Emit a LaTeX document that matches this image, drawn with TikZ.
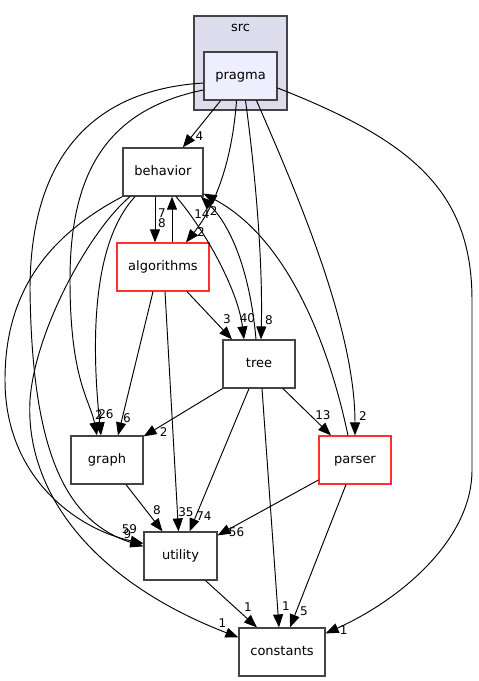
\documentclass[tikz,border=0pt]{standalone}
\usepackage{fontspec}
\setmainfont{DejaVu Sans}
\usetikzlibrary{arrows.meta}
\definecolor{boxgray}{HTML}{444444}
\definecolor{truncred}{HTML}{FF3030}
\definecolor{clusterfill}{HTML}{DDDDEE}
\definecolor{pragmafill}{HTML}{EEEEFF}

\begin{document}
\begin{tikzpicture}[x=1pt,y=-1pt,
  box/.style={draw=boxgray,line width=1.2pt,fill=white,inner sep=0pt,
    minimum width=72pt,minimum height=48pt,text height=9.5pt,text depth=2.5pt,
    font=\fontsize{13}{15}\selectfont},
  trunc/.style={box,draw=truncred},
  dep/.style={-{Triangle[length=13pt,width=10pt]},line width=0.95pt},
  lbl/.style={font=\fontsize{12}{14}\selectfont,inner sep=0pt}]

  \useasboundingbox (0,0) rectangle (479,681);

  \draw[boxgray,line width=1.2pt,fill=clusterfill] (194,16) rectangle (287,110);
  \node[font=\fontsize{13}{15}\selectfont,text height=9.5pt,text depth=2.5pt] (srctitle) at (240.5,28) {src};

  \node[box,fill=pragmafill,minimum width=73pt] (pragma) at (240.5,76) {pragma};
  \node[box,minimum width=80pt] (behavior) at (163,172) {behavior};
  \node[trunc,minimum width=92pt] (algorithms) at (163,267) {algorithms};
  \node[box] (tree) at (259,364) {tree};
  \node[box] (graph) at (107,460) {graph};
  \node[trunc] (parser) at (355,460) {parser};
  \node[box,minimum width=73pt] (utility) at (180.5,556) {utility};
  \node[box,minimum width=86pt] (constants) at (282,652) {constants};

  % from pragma
  \draw[dep] (pragma) -- (behavior) node[lbl,at end,shift={(16.6,-11)}] {4};
  \draw[dep] ([xshift=-4pt]pragma.south) .. controls (233,150) and (220,200) .. ([xshift=23pt]algorithms.north)
    node[lbl,at end,shift={(15,-10.5)}] {2};
  \draw[dep] ([xshift=5pt]pragma.south) .. controls (255,170) and (263,260) .. ([xshift=2pt]tree.north)
    node[lbl,at end,shift={(8,-19)}] {8};
  \draw[dep] ([xshift=16pt]pragma.south) .. controls (300,200) and (355,330) .. (parser.north)
    node[lbl,at end,shift={(8,-19)}] {2};
  \draw[dep] ([yshift=-14pt]pragma.west) .. controls (105,110) and (70,175) .. (70,280)
    .. controls (70,380) and (90,400) .. ([xshift=-10pt]graph.north)
    node[lbl,at end,shift={(2,-20)}] {2};
  \draw[dep] ([yshift=-7pt]pragma.west) .. controls (90,90) and (30,160) .. (30,290)
    .. controls (32,440) and (60,520) .. ([yshift=-15pt]utility.north west)
    node[lbl,at end,shift={(-16,-12)}] {9};
  \draw[dep] ([yshift=-12pt]pragma.east) .. controls (410,140) and (472,190) .. (472,300) -- (472,470)
    .. controls (472,540) and (400,600) .. ([yshift=-6pt]constants.north east)
    node[lbl,at end,shift={(18,-3)}] {1};

  % from behavior
  \draw[dep] ([xshift=-8pt]behavior.south) -- ([xshift=-8pt]algorithms.north)
    node[lbl,at end,shift={(7,-19.5)}] {8};
  \draw[dep] ([xshift=13pt]behavior.south) .. controls (205,230) and (238,290) .. ([xshift=-15pt]tree.north)
    node[lbl,at end,shift={(3.5,-21.5)}] {40};
  \draw[dep] ([xshift=-28pt]behavior.south) .. controls (95,240) and (90,330) .. ([xshift=-6pt]graph.north)
    node[lbl,at end,shift={(5,-21)}] {26};
  \draw[dep] (behavior.south west) .. controls (40,240) and (5,300) .. (5,380)
    .. controls (5,480) and (80,530) .. ([yshift=-12pt]utility.north west)
    node[lbl,at end,shift={(-14,-14)}] {59};
  \draw[dep] ([xshift=-33pt]behavior.south) .. controls (90,230) and (35,330) .. (30,400)
    .. controls (25,490) and (90,580) .. ([yshift=-10pt]constants.north west)
    node[lbl,at end,shift={(-16,-14)}] {1};

  % from algorithms
  \draw[dep] ([xshift=9pt]algorithms.north) -- ([xshift=9pt]behavior.south)
    node[lbl,at end,shift={(-10,17)}] {7};
  \draw[dep] ([xshift=24pt]algorithms.south) -- ([xshift=-27pt]tree.north)
    node[lbl,at end,shift={(-5,-20.5)}] {3};
  \draw[dep] ([xshift=-10pt]algorithms.south) -- ([xshift=11pt]graph.north)
    node[lbl,at end,shift={(9,-17)}] {6};
  \draw[dep] ([xshift=2pt]algorithms.south) -- ([xshift=-2pt]utility.north)
    node[lbl,at end,shift={(7.5,-19)}] {35};

  % from tree
  \draw[dep] ([xshift=-3pt]tree.north) .. controls (250,270) and (230,225) .. ([xshift=38pt]behavior.south)
    node[lbl,at end,shift={(1,18)}] {14};
  \draw[dep] (tree.south west) -- ([yshift=-1pt]graph.north east)
    node[lbl,at end,shift={(20,-4)}] {2};
  \draw[dep] ([xshift=24pt]tree.south) -- ([xshift=-24pt]parser.north)
    node[lbl,at end,shift={(-8,-20)}] {13};
  \draw[dep] ([xshift=-10pt]tree.south) -- ([xshift=9pt]utility.north)
    node[lbl,at end,shift={(14.5,-15)}] {74};
  \draw[dep] ([xshift=3pt]tree.south) -- ([xshift=-3pt]constants.north)
    node[lbl,at end,shift={(7,-21)}] {1};

  % from parser
  \draw[dep] ([xshift=-7pt]parser.north) .. controls (330,350) and (290,240) .. ([yshift=3pt]behavior.south east)
    node[lbl,at end,shift={(10,17)}] {2};
  \draw[dep] ([yshift=-20pt]parser.west) -- ([yshift=-4pt]utility.north east)
    node[lbl,at end,shift={(19,-3)}] {56};
  \draw[dep] ([xshift=-9pt]parser.south) -- ([xshift=8pt]constants.north)
    node[lbl,at end,shift={(14,-16)}] {5};

  % from graph and utility
  \draw[dep] ([xshift=19pt]graph.south) -- ([xshift=-18pt]utility.north)
    node[lbl,at end,shift={(-5.5,-21)}] {8};
  \draw[dep] ([xshift=25pt]utility.south) -- ([xshift=-25pt]constants.north)
    node[lbl,at end,shift={(-9,-20)}] {1};

\end{tikzpicture}
\end{document}
